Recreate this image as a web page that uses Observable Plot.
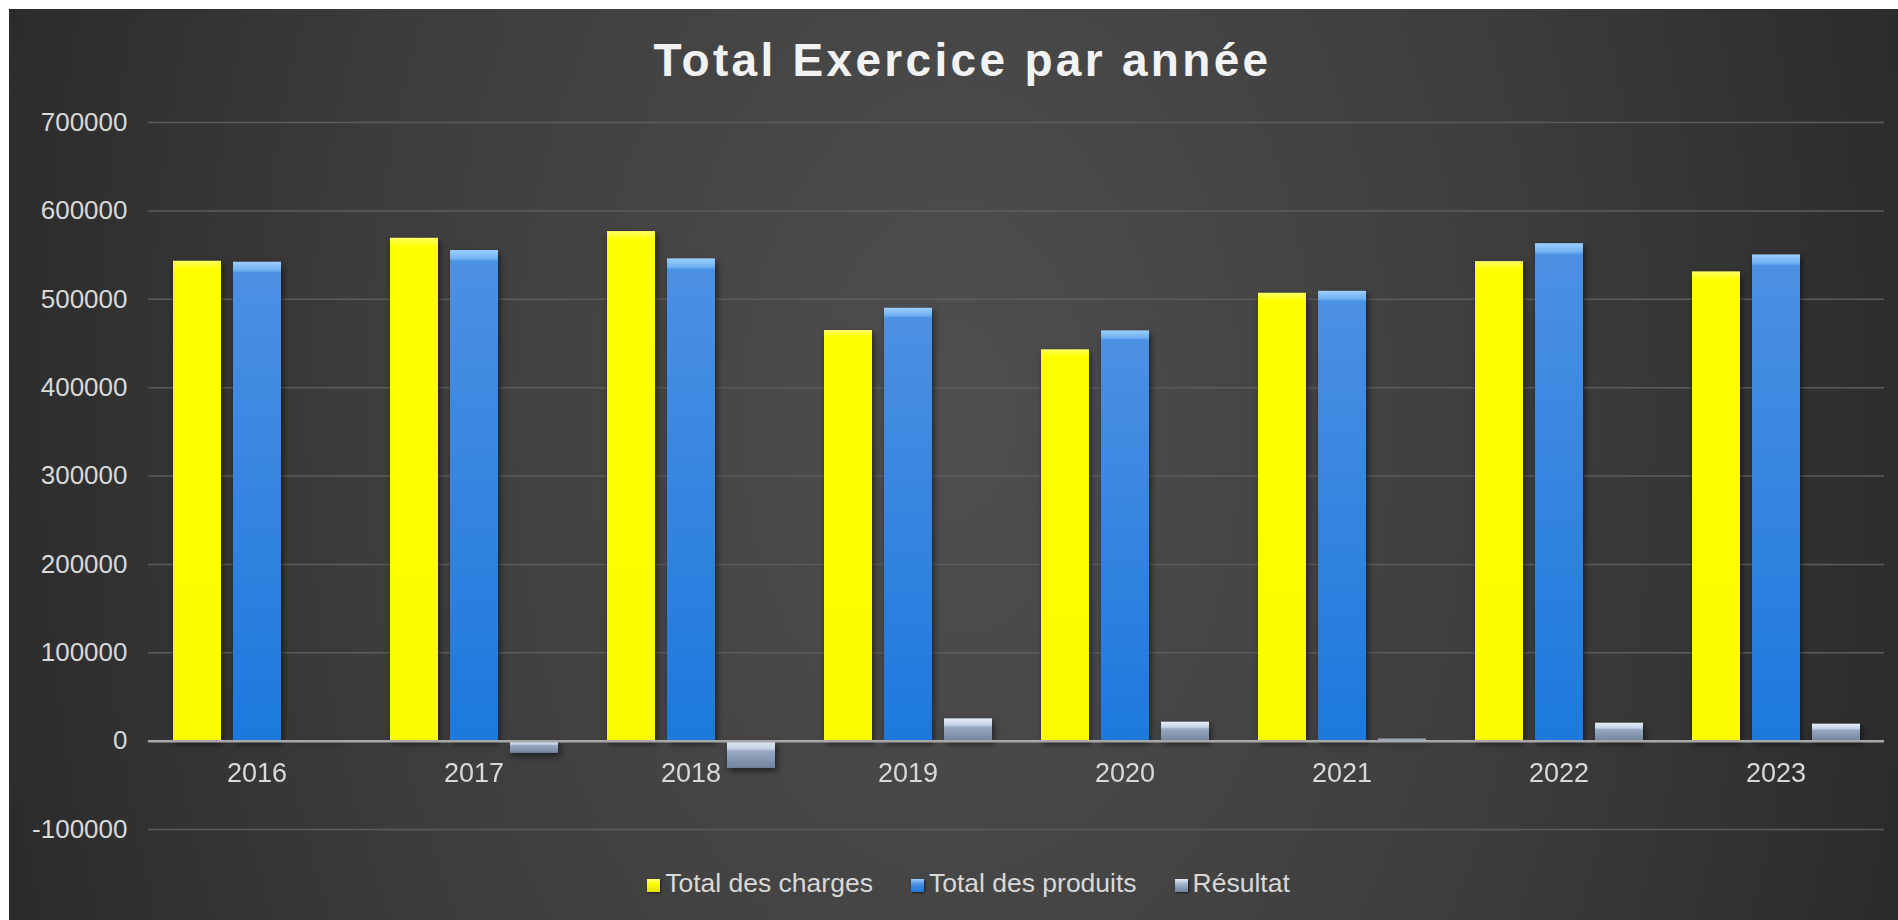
<!DOCTYPE html>
<html>
<head>
<meta charset="utf-8">
<script src="https://cdn.jsdelivr.net/npm/d3@7"></script>
<script src="https://cdn.jsdelivr.net/npm/@observablehq/plot@0.6"></script>
<style>
  html, body { margin: 0; padding: 0; background: #ffffff; }
  body { width: 1898px; height: 920px; overflow: hidden; position: relative; }
  #chart {
    position: absolute; left: 9px; top: 9px; width: 1889px; height: 911px;
    background: radial-gradient(ellipse 58% 190% at 50% 45%, #4f4f4f 0%, #3c3c3c 55%, #262626 100%);
    font-family: "Liberation Sans", Arial, sans-serif;
  }
  #title {
    padding-top: 21px; padding-left: 18px; height: 60px; line-height: 60px;
    text-align: center; font-size: 46px; font-weight: bold; letter-spacing: 3.3px; color: #f2f2f2;
  }
  #legend {
    padding-top: 18px; padding-left: 30px; line-height: 30px; text-align: center;
    font-size: 26.5px; color: #d9d9d9; white-space: nowrap;
  }
  .item { display: inline-block; margin: 0 19px; }
  .sw { display: inline-block; width: 13px; height: 13px; margin-right: 5px; vertical-align: 0px; box-shadow: 1px 1px 2px rgba(0,0,0,0.6); }
</style>
</head>
<body>
<div id="chart">
  <div id="title">Total Exercice par année</div>
  <div id="plot"></div>
  <div id="legend"></div>
</div>
<script>
const years = ["2016", "2017", "2018", "2019", "2020", "2021", "2022", "2023"];
const seriesNames = ["Total des charges", "Total des produits", "Résultat"];
const charges  = [543000, 569000, 576600, 464600, 442800, 506800, 542600, 531000];
const produits = [541900, 555100, 545700, 489800, 464250, 509000, 562900, 550200];
const resultat = [-1100, -13900, -30900, 25200, 21450, 2200, 20300, 19200];
const yTicks = [-100000, 0, 100000, 200000, 300000, 400000, 500000, 600000, 700000];

const seriesValues = [charges, produits, resultat];
const fills = ["url(#gYellow)", "url(#gBlue)", "url(#gRes)"];
const swatchCss = [
  "linear-gradient(#ffff80, #ffff00 35%, #e0e000)",
  "linear-gradient(#9cd0ff, #4a8fe2 40%, #1c78dc)",
  "linear-gradient(#e3ebf6, #9aabc4 45%, #6f819d)"
];

const rows = years.flatMap((yr, i) =>
  seriesNames.map((s, k) => ({year: yr, series: s, value: seriesValues[k][i]}))
);

const barMarks = seriesNames.map((s, k) =>
  Plot.barY(rows.filter(r => r.series === s), {
    fx: "year", x: "series", y: "value", fill: fills[k]
  })
);

const plot = Plot.plot({
  width: 1889,
  height: 760,
  marginTop: 32,
  marginBottom: 21,
  marginLeft: 139,
  marginRight: 14,
  style: {background: "transparent", color: "#d9d9d9", fontFamily: "'Liberation Sans', Arial, sans-serif", fontSize: "26px", overflow: "visible"},
  fx: {domain: years, padding: 0, axis: null, label: null},
  x: {domain: seriesNames, paddingInner: 0.2, paddingOuter: 0.408, axis: null, label: null},
  y: {domain: [-100000, 700000], axis: null, label: null},
  marks: [
    Plot.gridY(yTicks, {stroke: "#5c5c5c", strokeOpacity: 1, strokeWidth: 1.5}),
    Plot.axisY(yTicks, {tickSize: 0, tickPadding: 21, tickFormat: d => String(d), fontSize: 26, fill: "#d9d9d9", label: null}),
    ...barMarks,
    Plot.ruleY([0], {stroke: "#a8a8a8", strokeWidth: 2.5}),
    Plot.text(years, {fx: d => d, y: d => 0, text: d => d, dy: 32, fontSize: 27, fill: "#d9d9d9"})
  ]
});

// gradients used by the bars
const defs = d3.select(plot).insert("defs", ":first-child");
function grad(id, stops) {
  const g = defs.append("linearGradient").attr("id", id).attr("x1", 0).attr("y1", 0).attr("x2", 0).attr("y2", 1);
  stops.forEach(([o, c]) => g.append("stop").attr("offset", o).attr("stop-color", c));
}
grad("gYellow", [["0%", "#ffff66"], ["1.5%", "#ffff10"], ["2%", "#ffff00"], ["100%", "#fcfc00"]]);
grad("gBlue", [["0%", "#9ccfff"], ["1.8%", "#6fb0f2"], ["2.3%", "#4c90e3"], ["100%", "#1c79dd"]]);
grad("gRes", [["0%", "#e6eef8"], ["30%", "#c3d1e4"], ["38%", "#98a9c2"], ["100%", "#72849f"]]);

d3.select(plot).selectAll('g[aria-label="bar"]').style("filter", "drop-shadow(2px 3px 3px rgba(0,0,0,0.55))");

document.getElementById("plot").appendChild(plot);

const legend = d3.select("#legend");
seriesNames.forEach((s, k) => {
  const it = legend.append("span").attr("class", "item");
  it.append("span").attr("class", "sw").style("background", swatchCss[k]);
  it.append("span").text(s);
});
</script>
</body>
</html>
